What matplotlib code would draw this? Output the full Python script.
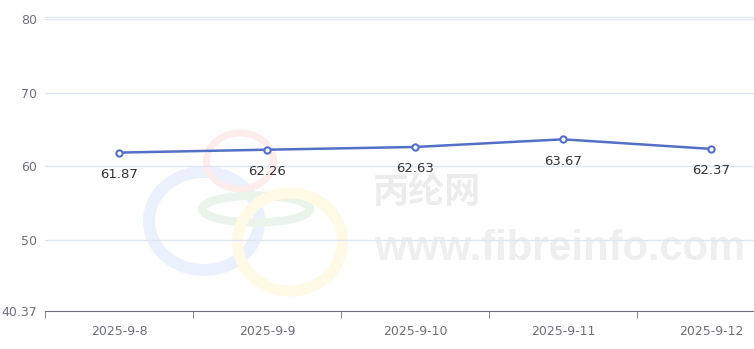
import matplotlib
matplotlib.use("Agg")
from matplotlib import pyplot as plt
from matplotlib.patches import Ellipse

dates = ["2025-9-8", "2025-9-9", "2025-9-10", "2025-9-11", "2025-9-12"]
prices = [61.87, 62.26, 62.63, 63.67, 62.37]
y_ticks = [40.37, 50, 60, 70, 80]
y_labels = ["40.37", "50", "60", "70", "80"]

W, H = 754, 349
fig = plt.figure(figsize=(W / 100, H / 100), dpi=100)

# watermark layer in pixel coords
bg = fig.add_axes([0, 0, 1, 1])
bg.set_xlim(0, W)
bg.set_ylim(H, 0)
bg.axis("off")
bg.add_patch(Ellipse((204, 221), 110, 98, fill=False, lw=8.6, ec="#eaf1fd"))
bg.add_patch(Ellipse((240, 161), 67, 56, fill=False, lw=5, ec="#fcecec"))
bg.add_patch(Ellipse((256, 209), 108, 27, fill=False, lw=6, ec="#eaf4ea"))
bg.add_patch(Ellipse((290, 242), 105, 98, fill=False, lw=8, ec="#fefae6"))
bg.text(427, 193, "丙纶网", fontsize=26, fontweight="bold", color="#ececec",
        family=["Noto Sans CJK SC", "DejaVu Sans"], ha="center", va="center")
bg.text(560, 249, "www.fibreinfo.com", fontsize=30, fontweight="bold", color="#efefef",
        family="Liberation Sans", ha="center", va="center")

ax = fig.add_axes([45 / W, 38 / H, 740 / W, 292 / H])
ax.patch.set_alpha(0)
x = list(range(len(dates)))
ax.plot(x, prices, color="#5470c6", lw=1.8, marker="o", ms=4.5,
        mfc="white", mec="#5470c6", mew=1.5, zorder=3)
for i, v in zip(x, prices):
    ax.annotate(f"{v:.2f}", (i, v), xytext=(0, -11), textcoords="offset points",
                ha="center", va="top", fontsize=9.5, color="#333333")

ax.set_xlim(-0.5, len(dates) - 0.5)
ax.set_ylim(40.37, 80)
ax.set_yticks(y_ticks)
ax.set_yticklabels(y_labels)
ax.set_xticks(x)
ax.set_xticklabels(dates)
ax.set_xticks([i - 0.5 for i in range(len(dates) + 1)], minor=True)
ax.tick_params(axis="x", which="major", length=0, pad=10, labelsize=9, labelcolor="#6e7079")
ax.tick_params(axis="x", which="minor", length=5, color="#6e7079")
ax.tick_params(axis="y", length=0, pad=6, labelsize=9, labelcolor="#6e7079")
for yv in y_ticks[1:]:
    ax.axhline(yv, color="#e0e6f1", lw=1, zorder=1)
ax.axhline(80.27, color="#e0e6f1", lw=1, zorder=1, clip_on=False)
for s in ["top", "right", "left"]:
    ax.spines[s].set_visible(False)
ax.spines["bottom"].set_color("#6e7079")

fig.savefig("out.png", dpi=100)
